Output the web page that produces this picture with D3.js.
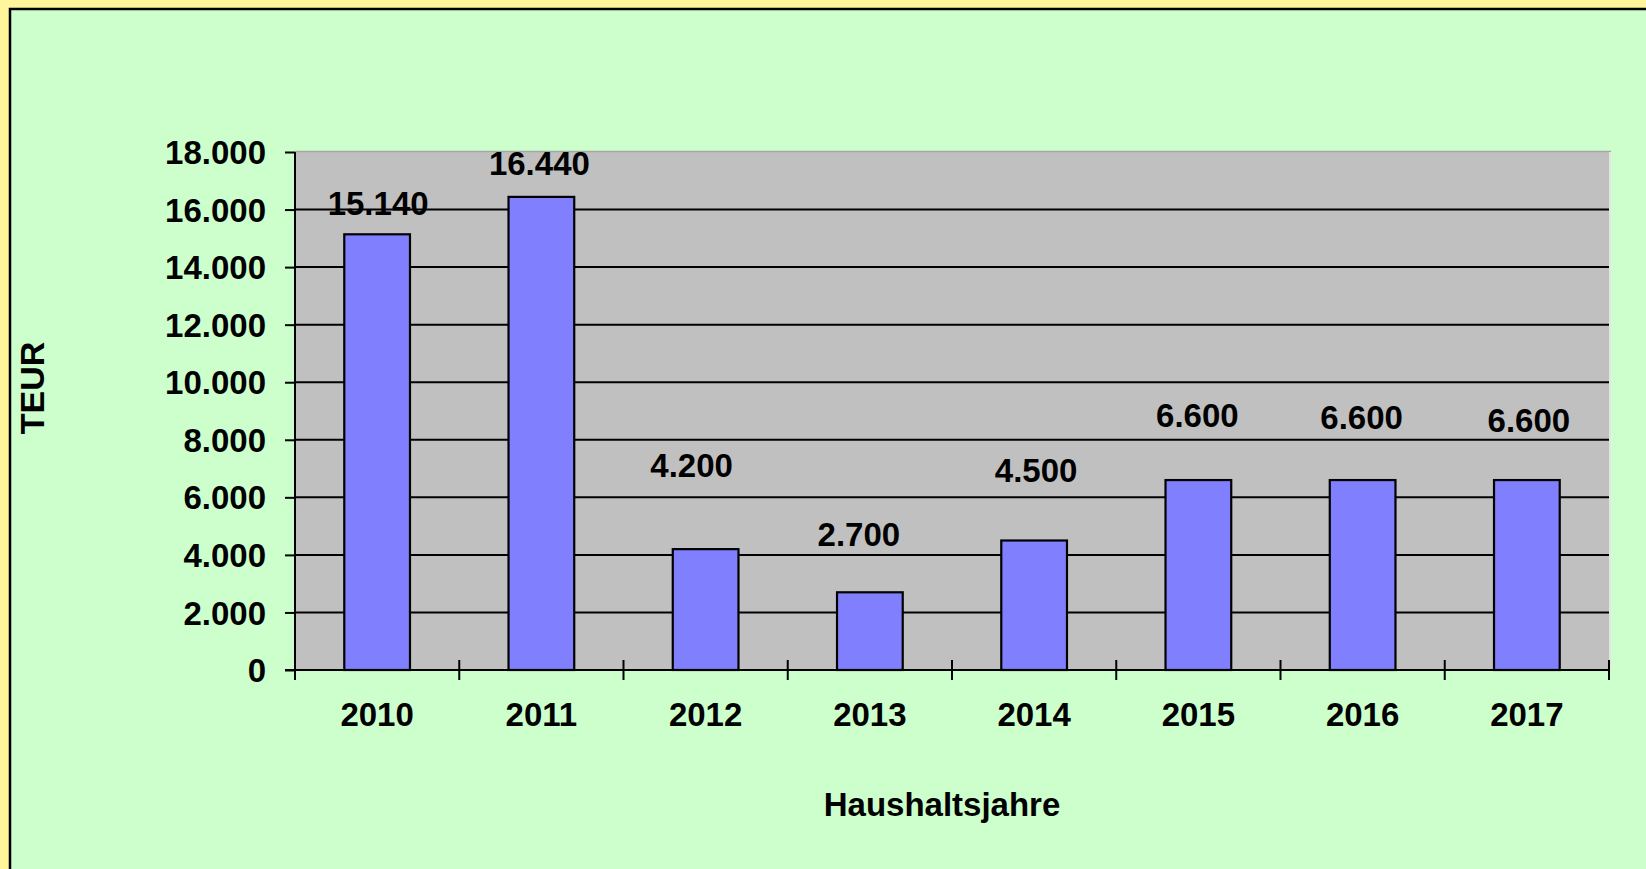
<!DOCTYPE html>
<html>
<head>
<meta charset="utf-8">
<script src="https://cdn.jsdelivr.net/npm/d3@7"></script>
<style>
  html, body { margin: 0; padding: 0; background: #fff59b; overflow: hidden; }
  svg { display: block; }
  text { font-family: Arial, "Liberation Sans", sans-serif; font-weight: bold; fill: #000; }
</style>
</head>
<body>
<div id="chart"></div>
<script>
// data
const years = ['2010', '2011', '2012', '2013', '2014', '2015', '2016', '2017'];
const values = [15140, 16440, 4200, 2700, 4500, 6600, 6600, 6600];
const yTicks = [0, 2000, 4000, 6000, 8000, 10000, 12000, 14000, 16000, 18000];

const yTitle = 'TEUR';
const xTitle = 'Haushaltsjahre';

// layout
const width = 1646, height = 869;
const margin = {top: 152, right: 37, bottom: 199, left: 295};
const plotW = width - margin.left - margin.right;
const plotH = height - margin.top - margin.bottom;
const fontSize = 33;

// label placement as in the original (pixels, dx / rise above bar top)
const labelDx = [1, -2, -14, -11, 2, -1, -1, 2];
const labelRise = [19, 22, 72, 46, 59, 53, 51, 48];

const fmt = v => d3.format(',')(v).replace(/,/g, '.');

const svg = d3.select('#chart').append('svg')
  .attr('width', width)
  .attr('height', height);

// outer panel
svg.append('rect')
  .attr('width', width).attr('height', height)
  .attr('fill', '#fff59b');
svg.append('rect')
  .attr('x', 10).attr('y', 9)
  .attr('width', width + 20).attr('height', height + 20)
  .attr('fill', '#ccffcc')
  .attr('stroke', '#000')
  .attr('stroke-width', 2.5);

const x = d3.scaleBand()
  .domain(years)
  .range([0, plotW]);

const y = d3.scaleLinear()
  .domain([0, 18000])
  .range([plotH, 0]);

const g = svg.append('g')
  .attr('transform', 'translate(' + margin.left + ',' + margin.top + ')');

// plot background
g.append('rect')
  .attr('width', plotW).attr('height', plotH)
  .attr('fill', '#c0c0c0');
g.append('line')
  .attr('x1', 0).attr('x2', plotW + 2)
  .attr('y1', -0.5).attr('y2', -0.5)
  .attr('stroke', '#a6a6a6').attr('stroke-width', 1.5);
g.append('line')
  .attr('x1', plotW + 1).attr('x2', plotW + 1)
  .attr('y1', 0).attr('y2', plotH)
  .attr('stroke', '#e4e4e4').attr('stroke-width', 2);

// gridlines
g.append('g')
  .selectAll('line')
  .data(yTicks.filter(d => d > 0 && d < 18000))
  .enter().append('line')
  .attr('x1', 0).attr('x2', plotW)
  .attr('y1', d => y(d)).attr('y2', d => y(d))
  .attr('stroke', '#000')
  .attr('stroke-width', 2);

// bars
const barW = x.bandwidth() * 0.4;
g.append('g')
  .selectAll('rect')
  .data(values)
  .enter().append('rect')
  .attr('x', (d, i) => x(years[i]) + (x.bandwidth() - barW) / 2)
  .attr('y', d => y(d))
  .attr('width', barW)
  .attr('height', d => plotH - y(d))
  .attr('fill', '#8080ff')
  .attr('stroke', '#000')
  .attr('stroke-width', 2.2);

// y axis
const yAxis = g.append('g')
  .call(d3.axisLeft(y).tickValues(yTicks).tickSize(10).tickPadding(19).tickFormat(fmt));
yAxis.select('.domain')
  .attr('stroke', '#000').attr('stroke-width', 2)
  .attr('d', 'M0,0V' + plotH);
yAxis.selectAll('.tick line').attr('stroke', '#000').attr('stroke-width', 2);
yAxis.selectAll('.tick text')
  .attr('font-size', fontSize)
  .attr('font-family', 'Arial, "Liberation Sans", sans-serif')
  .attr('font-weight', 'bold')
  .attr('dy', '0.35em');

// x axis
const xAxis = g.append('g')
  .attr('transform', 'translate(0,' + plotH + ')');
xAxis.append('line')
  .attr('x1', -10).attr('x2', plotW)
  .attr('stroke', '#000').attr('stroke-width', 2);
xAxis.selectAll('.xtick')
  .data(years.concat(['end']))
  .enter().append('line')
  .attr('class', 'xtick')
  .attr('x1', (d, i) => i * x.step())
  .attr('x2', (d, i) => i * x.step())
  .attr('y1', -10).attr('y2', 10)
  .attr('stroke', '#000').attr('stroke-width', 2);
xAxis.selectAll('.xlabel')
  .data(years)
  .enter().append('text')
  .attr('class', 'xlabel')
  .attr('x', d => x(d) + x.bandwidth() / 2)
  .attr('y', 56)
  .attr('text-anchor', 'middle')
  .attr('font-size', fontSize)
  .text(d => d);

// value labels
g.append('g')
  .selectAll('text')
  .data(values)
  .enter().append('text')
  .attr('x', (d, i) => x(years[i]) + x.bandwidth() / 2 + labelDx[i])
  .attr('y', (d, i) => y(d) - labelRise[i])
  .attr('text-anchor', 'middle')
  .attr('font-size', fontSize)
  .text(d => fmt(d));

// axis titles
svg.append('text')
  .attr('transform', 'translate(44,388) rotate(-90)')
  .attr('text-anchor', 'middle')
  .attr('font-size', 34)
  .text(yTitle);

svg.append('text')
  .attr('x', 942)
  .attr('y', 816)
  .attr('text-anchor', 'middle')
  .attr('font-size', fontSize)
  .text(xTitle);
</script>
</body>
</html>
